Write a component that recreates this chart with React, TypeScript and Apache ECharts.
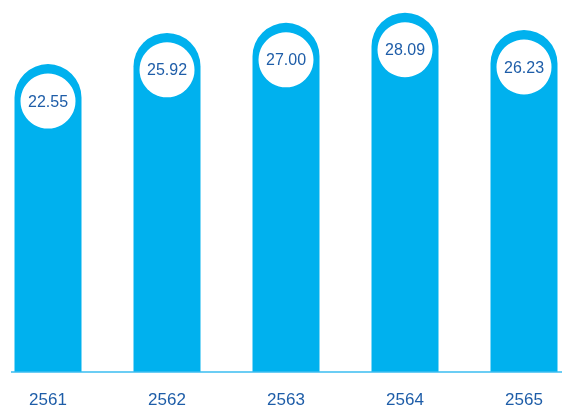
import React, { useEffect, useRef } from "react";
import * as echarts from "echarts";

const categories = ["2561", "2562", "2563", "2564", "2565"];
const values = [22.55, 25.92, 27.0, 28.09, 26.23];

const X_MIN = -0.4034;
const X_MAX = 4.3193;
const Y_MIN = -10.7;
const Y_MAX = 29.47;

const BAR_COLOR = "#00B1EE";
const TEXT_COLOR = "#1E5DA8";
const AXIS_COLOR = "#3ABDF0";
const FONT = '"Liberation Sans", Arial, Helvetica, sans-serif';

export default function App() {
  const ref = useRef<HTMLDivElement>(null);

  useEffect(() => {
    const chart = echarts.init(ref.current!, null, { renderer: "svg" });
    chart.setOption({
      animation: false,
      grid: { left: 0, right: 0, top: 0, bottom: 40 },
      xAxis: { type: "value", min: X_MIN, max: X_MAX, show: false },
      yAxis: { type: "value", min: Y_MIN, max: Y_MAX, show: false },
      graphic: [
        {
          type: "line",
          shape: { x1: 11, y1: 372, x2: 562, y2: 372 },
          style: { stroke: AXIS_COLOR, lineWidth: 1.5 },
          z: 100,
        },
      ],
      series: [
        {
          type: "custom",
          clip: false,
          data: values.map((v, i) => [i, v]),
          renderItem: (params: any, api: any) => {
            const x = api.value(0);
            const v = api.value(1) as number;
            const top = api.coord([x, v]);
            const base = api.coord([x, Y_MIN]);
            const w = api.size([1, 0])[0] * 0.563;
            const cx = top[0];
            const cy = top[1] + 37;
            return {
              type: "group",
              children: [
                {
                  type: "rect",
                  shape: {
                    x: cx - w / 2,
                    y: top[1],
                    width: w,
                    height: base[1] - top[1],
                    r: [w / 2, w / 2, 0, 0],
                  },
                  style: { fill: BAR_COLOR },
                },
                {
                  type: "circle",
                  shape: { cx, cy, r: 27.5 },
                  style: { fill: "#ffffff" },
                },
                {
                  type: "text",
                  x: cx,
                  y: cy,
                  style: {
                    text: v.toFixed(2),
                    fill: TEXT_COLOR,
                    fontSize: 16,
                    fontFamily: FONT,
                    align: "center",
                    verticalAlign: "middle",
                  },
                },
                {
                  type: "text",
                  x: cx,
                  y: base[1] + 27.5,
                  style: {
                    text: categories[params.dataIndex],
                    fill: TEXT_COLOR,
                    fontSize: 17,
                    fontFamily: FONT,
                    align: "center",
                    verticalAlign: "middle",
                  },
                },
              ],
            };
          },
        },
      ],
    });
    return () => chart.dispose();
  }, []);

  return (
    <div
      ref={ref}
      style={{ position: "fixed", left: 0, top: 0, width: 562, height: 412 }}
    />
  );
}
